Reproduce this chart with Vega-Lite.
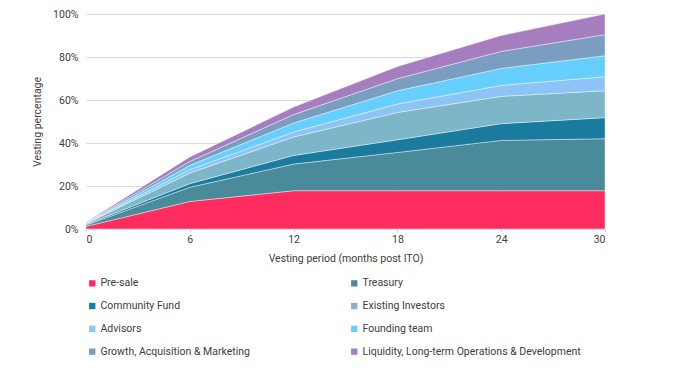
{
  "$schema": "https://vega.github.io/schema/vega-lite/v6.json",
  "width": 519,
  "height": 215,
  "autosize": {"type": "none"},
  "padding": {"left": 86, "top": 14, "right": 81, "bottom": 145},
  "config": {
    "font": "Roboto",
    "view": {"stroke": null},
    "axis": {"labelColor": "#404040", "titleColor": "#404040", "labelFontSize": 10.5, "titleFontSize": 10.5, "titleFontWeight": "normal"}
  },
  "data": {
    "values": [
      {"month": 0, "k": 1, "cat": "Pre-sale", "v": 1.2},
      {"month": 0, "k": 2, "cat": "Treasury", "v": 0.6},
      {"month": 0, "k": 3, "cat": "Community Fund", "v": 0.3},
      {"month": 0, "k": 4, "cat": "Existing Investors", "v": 0.4},
      {"month": 0, "k": 5, "cat": "Advisors", "v": 0.15},
      {"month": 0, "k": 6, "cat": "Founding team", "v": 0.15},
      {"month": 0, "k": 7, "cat": "Growth, Acquisition & Marketing", "v": 0.15},
      {"month": 0, "k": 8, "cat": "Liquidity, Long-term Operations & Development", "v": 0.2},
      {"month": 6, "k": 1, "cat": "Pre-sale", "v": 12.8},
      {"month": 6, "k": 2, "cat": "Treasury", "v": 6.6},
      {"month": 6, "k": 3, "cat": "Community Fund", "v": 1.7},
      {"month": 6, "k": 4, "cat": "Existing Investors", "v": 4.9},
      {"month": 6, "k": 5, "cat": "Advisors", "v": 1.6},
      {"month": 6, "k": 6, "cat": "Founding team", "v": 2.0},
      {"month": 6, "k": 7, "cat": "Growth, Acquisition & Marketing", "v": 1.8},
      {"month": 6, "k": 8, "cat": "Liquidity, Long-term Operations & Development", "v": 2.1},
      {"month": 12, "k": 1, "cat": "Pre-sale", "v": 17.8},
      {"month": 12, "k": 2, "cat": "Treasury", "v": 12.4},
      {"month": 12, "k": 3, "cat": "Community Fund", "v": 4.0},
      {"month": 12, "k": 4, "cat": "Existing Investors", "v": 8.6},
      {"month": 12, "k": 5, "cat": "Advisors", "v": 2.3},
      {"month": 12, "k": 6, "cat": "Founding team", "v": 4.2},
      {"month": 12, "k": 7, "cat": "Growth, Acquisition & Marketing", "v": 3.9},
      {"month": 12, "k": 8, "cat": "Liquidity, Long-term Operations & Development", "v": 3.5},
      {"month": 18, "k": 1, "cat": "Pre-sale", "v": 17.8},
      {"month": 18, "k": 2, "cat": "Treasury", "v": 17.8},
      {"month": 18, "k": 3, "cat": "Community Fund", "v": 5.9},
      {"month": 18, "k": 4, "cat": "Existing Investors", "v": 12.7},
      {"month": 18, "k": 5, "cat": "Advisors", "v": 3.9},
      {"month": 18, "k": 6, "cat": "Founding team", "v": 6.2},
      {"month": 18, "k": 7, "cat": "Growth, Acquisition & Marketing", "v": 5.6},
      {"month": 18, "k": 8, "cat": "Liquidity, Long-term Operations & Development", "v": 5.7},
      {"month": 24, "k": 1, "cat": "Pre-sale", "v": 17.8},
      {"month": 24, "k": 2, "cat": "Treasury", "v": 23.4},
      {"month": 24, "k": 3, "cat": "Community Fund", "v": 7.8},
      {"month": 24, "k": 4, "cat": "Existing Investors", "v": 12.7},
      {"month": 24, "k": 5, "cat": "Advisors", "v": 5.1},
      {"month": 24, "k": 6, "cat": "Founding team", "v": 7.9},
      {"month": 24, "k": 7, "cat": "Growth, Acquisition & Marketing", "v": 7.9},
      {"month": 24, "k": 8, "cat": "Liquidity, Long-term Operations & Development", "v": 7.4},
      {"month": 30, "k": 1, "cat": "Pre-sale", "v": 17.8},
      {"month": 30, "k": 2, "cat": "Treasury", "v": 24.2},
      {"month": 30, "k": 3, "cat": "Community Fund", "v": 9.8},
      {"month": 30, "k": 4, "cat": "Existing Investors", "v": 12.5},
      {"month": 30, "k": 5, "cat": "Advisors", "v": 6.5},
      {"month": 30, "k": 6, "cat": "Founding team", "v": 9.8},
      {"month": 30, "k": 7, "cat": "Growth, Acquisition & Marketing", "v": 9.8},
      {"month": 30, "k": 8, "cat": "Liquidity, Long-term Operations & Development", "v": 9.6}
    ]
  },
  "mark": {"type": "area", "stroke": "white", "strokeWidth": 0.5, "strokeOpacity": 0.8},
  "encoding": {
    "x": {
      "field": "month", "type": "quantitative",
      "scale": {"domain": [0, 30], "nice": false},
      "axis": {"values": [0, 6, 12, 18, 24, 30], "grid": false, "title": "Vesting period (months post ITO)", "tickColor": "#d9d9d9", "tickSize": 3, "labelPadding": 2, "titlePadding": 9, "domain": false}
    },
    "y": {
      "field": "v", "type": "quantitative", "stack": "zero",
      "scale": {"domain": [0, 100], "nice": false},
      "axis": {"values": [0, 20, 40, 60, 80, 100], "labelExpr": "datum.value + '%'", "title": "Vesting percentage", "gridColor": "#d9d9d9", "domain": false, "ticks": false, "labelPadding": 8, "titlePadding": 10}
    },
    "order": {"field": "k", "type": "quantitative", "sort": "ascending"},
    "color": {
      "field": "cat", "type": "nominal",
      "sort": ["Pre-sale", "Treasury", "Community Fund", "Existing Investors", "Advisors", "Founding team", "Growth, Acquisition & Marketing", "Liquidity, Long-term Operations & Development"],
      "scale": {
        "domain": ["Pre-sale", "Treasury", "Community Fund", "Existing Investors", "Advisors", "Founding team", "Growth, Acquisition & Marketing", "Liquidity, Long-term Operations & Development"],
        "range": ["#ff2d5f", "#4a8b9b", "#1a7b9f", "#7db5c9", "#8cc4f8", "#66cfff", "#7b9dc0", "#a67ec0"]
      },
      "legend": {
        "orient": "none", "legendX": 1, "legendY": 264, "columns": 2, "direction": "horizontal", "title": null,
        "symbolType": "square", "symbolSize": 40, "symbolStrokeWidth": 0, "symbolOpacity": 1,
        "labelFontSize": 10.5, "labelColor": "#404040", "labelOffset": 3, "labelLimit": 400,
        "rowPadding": 11.8, "columnPadding": 99, "gridAlign": "each"
      }
    }
  }
}
